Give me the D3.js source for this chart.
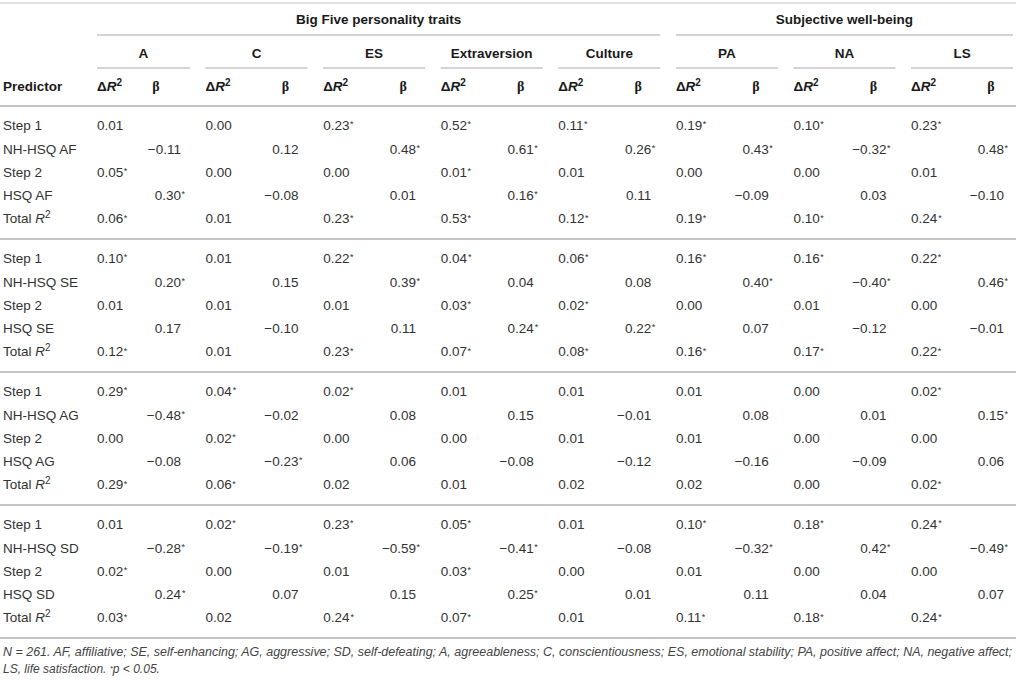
<!DOCTYPE html>
<html>
<head>
<meta charset="utf-8">
<script src="https://d3js.org/d3.v7.min.js"></script>
<style>
  body { margin: 0; background: #fff; }
  svg text { font-family: "Liberation Sans", Arial, Helvetica, sans-serif; }
</style>
</head>
<body>
<div id="container"></div>
<script>
// column groups
var bigFive = ["A", "C", "ES", "Extraversion", "Culture"];
var wellBeing = ["PA", "NA", "LS"];
var outcomes = bigFive.concat(wellBeing);
var groupTitles = ["Big Five personality traits", "Subjective well-being"];

// humor style blocks
var styles = ["AF", "SE", "AG", "SD"];

// values per block (AF, SE, AG, SD), one entry per outcome
var step1 = [
  ["0.01", "0.00", "0.23*", "0.52*", "0.11*", "0.19*", "0.10*", "0.23*"],
  ["0.10*", "0.01", "0.22*", "0.04*", "0.06*", "0.16*", "0.16*", "0.22*"],
  ["0.29*", "0.04*", "0.02*", "0.01", "0.01", "0.01", "0.00", "0.02*"],
  ["0.01", "0.02*", "0.23*", "0.05*", "0.01", "0.10*", "0.18*", "0.24*"]
];
var nhBeta = [
  ["−0.11", "0.12", "0.48*", "0.61*", "0.26*", "0.43*", "−0.32*", "0.48*"],
  ["0.20*", "0.15", "0.39*", "0.04", "0.08", "0.40*", "−0.40*", "0.46*"],
  ["−0.48*", "−0.02", "0.08", "0.15", "−0.01", "0.08", "0.01", "0.15*"],
  ["−0.28*", "−0.19*", "−0.59*", "−0.41*", "−0.08", "−0.32*", "0.42*", "−0.49*"]
];
var step2 = [
  ["0.05*", "0.00", "0.00", "0.01*", "0.01", "0.00", "0.00", "0.01"],
  ["0.01", "0.01", "0.01", "0.03*", "0.02*", "0.00", "0.01", "0.00"],
  ["0.00", "0.02*", "0.00", "0.00", "0.01", "0.01", "0.00", "0.00"],
  ["0.02*", "0.00", "0.01", "0.03*", "0.00", "0.01", "0.00", "0.00"]
];
var hsqBeta = [
  ["0.30*", "−0.08", "0.01", "0.16*", "0.11", "−0.09", "0.03", "−0.10"],
  ["0.17", "−0.10", "0.11", "0.24*", "0.22*", "0.07", "−0.12", "−0.01"],
  ["−0.08", "−0.23*", "0.06", "−0.08", "−0.12", "−0.16", "−0.09", "0.06"],
  ["0.24*", "0.07", "0.15", "0.25*", "0.01", "0.11", "0.04", "0.07"]
];
var totalR2 = [
  ["0.06*", "0.01", "0.23*", "0.53*", "0.12*", "0.19*", "0.10*", "0.24*"],
  ["0.12*", "0.01", "0.23*", "0.07*", "0.08*", "0.16*", "0.17*", "0.22*"],
  ["0.29*", "0.06*", "0.02", "0.01", "0.02", "0.02", "0.00", "0.02*"],
  ["0.03*", "0.02", "0.24*", "0.07*", "0.01", "0.11*", "0.18*", "0.24*"]
];

var footLine1 = "N = 261. AF, affiliative; SE, self-enhancing; AG, aggressive; SD, self-defeating; A, agreeableness; C, conscientiousness; ES, emotional stability; PA, positive affect; NA, negative affect;";
var footLine2 = "LS, life satisfaction. ";

var W = 1016, H = 680;
var fs = 13.5;
var textCol = "#333", headCol = "#1a1a1a", ruleCol = "#c4c4c4";

var svg = d3.select("#container").append("svg")
  .attr("width", W)
  .attr("height", H);

// x: one band per outcome
var x = d3.scaleBand()
  .domain(outcomes)
  .range([88, 1013])
  .paddingInner(0.133);
var predLeft = 3, firstCol = 97;
function gStart(d) { return Math.max(x(d), firstCol); }
function gEnd(d) { return x(d) + x.bandwidth(); }

// y: block rules and rows within a block
var blockY = d3.scaleLinear().domain([0, 4]).range([106, 638]);
var rowY = d3.scaleLinear().domain([0, 4]).range([19.5, 112.7]);

// rules
svg.append("line").attr("x1", 0).attr("x2", W).attr("y1", 3).attr("y2", 3)
  .attr("stroke", ruleCol).attr("stroke-width", 1.2);
d3.range(5).forEach(function(b) {
  svg.append("line").attr("x1", 0).attr("x2", W)
    .attr("y1", blockY(b)).attr("y2", blockY(b))
    .attr("stroke", ruleCol).attr("stroke-width", 2);
});

// group headers
var grp = [bigFive, wellBeing];
grp.forEach(function(g, i) {
  var x0 = gStart(g[0]), x1 = gEnd(g[g.length - 1]);
  svg.append("text").attr("x", (x0 + x1) / 2).attr("y", 19).attr("dy", "0.35em")
    .attr("text-anchor", "middle").attr("font-size", fs).attr("font-weight", "bold")
    .attr("fill", headCol).text(groupTitles[i]);
  svg.append("line").attr("x1", x0).attr("x2", x1).attr("y1", 35).attr("y2", 35)
    .attr("stroke", ruleCol).attr("stroke-width", 1.5);
});

// outcome headers
var oh = svg.append("g").selectAll("g").data(outcomes).enter().append("g");
oh.append("text")
  .attr("x", function(d) { return (gStart(d) + gEnd(d)) / 2; })
  .attr("y", 53).attr("dy", "0.35em")
  .attr("text-anchor", "middle").attr("font-size", fs).attr("font-weight", "bold")
  .attr("fill", headCol).text(function(d) { return d; });
oh.append("line")
  .attr("x1", gStart).attr("x2", gEnd).attr("y1", 68).attr("y2", 68)
  .attr("stroke", ruleCol).attr("stroke-width", 1.5);

// sub headers
svg.append("text").attr("x", predLeft).attr("y", 86).attr("dy", "0.35em")
  .attr("font-size", fs).attr("font-weight", "bold").attr("fill", headCol)
  .text("Predictor");
var dr = oh.append("text")
  .attr("x", gStart).attr("y", 86).attr("dy", "0.35em")
  .attr("font-size", fs).attr("font-weight", "bold").attr("fill", headCol);
dr.append("tspan").text("Δ");
dr.append("tspan").attr("font-style", "italic").text("R");
dr.append("tspan").attr("font-size", 10).attr("dy", -5).text("2");
oh.append("text")
  .attr("x", function(d) { return d === outcomes[0] ? gStart(d) + 59 : gEnd(d) - 22; })
  .attr("y", 86).attr("dy", "0.35em").attr("text-anchor", "middle")
  .style("font-family", "'Liberation Serif', 'Times New Roman', serif")
  .attr("font-size", 14).attr("font-weight", "bold").attr("fill", headCol).text("β");

// body
var rowKinds = [
  { vals: step1, beta: false },
  { vals: nhBeta, beta: true },
  { vals: step2, beta: false },
  { vals: hsqBeta, beta: true },
  { vals: totalR2, beta: false }
];

function label(g, kind, s) {
  var t = g.append("text").attr("x", predLeft).attr("dy", "0.35em")
    .attr("font-size", fs).attr("fill", textCol);
  if (kind === 0) t.text("Step 1");
  else if (kind === 1) t.text("NH-HSQ " + s);
  else if (kind === 2) t.text("Step 2");
  else if (kind === 3) t.text("HSQ " + s);
  else {
    t.append("tspan").text("Total ");
    t.append("tspan").attr("font-style", "italic").text("R");
    t.append("tspan").attr("font-size", 10).attr("dy", -5).text("2");
  }
}

styles.forEach(function(s, b) {
  rowKinds.forEach(function(k, r) {
    var g = svg.append("g").attr("transform", "translate(0," + (blockY(b) + rowY(r)) + ")");
    label(g, r, s);
    var cells = g.selectAll("g.cell").data(k.vals[b]).enter().append("g").attr("class", "cell");
    cells.append("text")
      .attr("x", function(d, i) { return k.beta ? gEnd(outcomes[i]) - 9 : gStart(outcomes[i]); })
      .attr("text-anchor", k.beta ? "end" : "start")
      .attr("dy", "0.35em").attr("font-size", fs).attr("fill", textCol)
      .text(function(d) { return d.replace("*", ""); })
      .each(function(d, i) {
        if (d.indexOf("*") < 0) return;
        var bb = this.getBBox();
        d3.select(this.parentNode).append("text")
          .attr("x", bb.x + bb.width + 0.5).attr("dy", "0.2em")
          .attr("font-size", 9).attr("fill", textCol).text("*");
      });
  });
});

// footnote
svg.append("text").attr("x", predLeft).attr("y", 652).attr("dy", "0.35em")
  .attr("font-size", 12).attr("font-style", "italic").attr("fill", "#444")
  .attr("textLength", 1009).attr("lengthAdjust", "spacingAndGlyphs")
  .text(footLine1);
var f2 = svg.append("text").attr("x", predLeft).attr("y", 669).attr("dy", "0.35em")
  .attr("font-size", 12).attr("font-style", "italic").attr("fill", "#444");
f2.append("tspan").text(footLine2);
f2.append("tspan").attr("font-size", 8).attr("dy", -2).text("*");
f2.append("tspan").attr("dy", 2).text("p < 0.05.");
</script>
</body>
</html>
